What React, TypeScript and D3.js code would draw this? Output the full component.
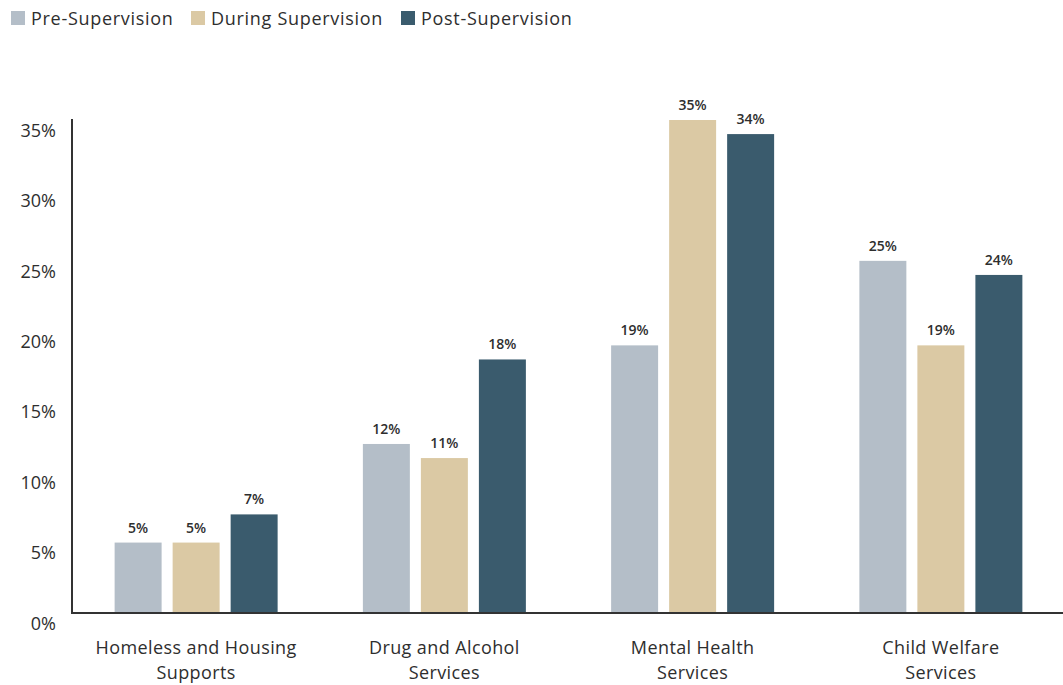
import { useEffect, useRef } from "react";
import * as d3 from "d3";

const categories = [
  "Homeless and Housing Supports",
  "Drug and Alcohol Services",
  "Mental Health Services",
  "Child Welfare Services",
];
const categoryLines = [
  ["Homeless and Housing", "Supports"],
  ["Drug and Alcohol", "Services"],
  ["Mental Health", "Services"],
  ["Child Welfare", "Services"],
];
const seriesNames = ["Pre-Supervision", "During Supervision", "Post-Supervision"];
const seriesColors = ["#b4bec8", "#dbc9a4", "#3a5b6d"];
const preValues = [5, 12, 19, 25];
const duringValues = [5, 11, 35, 19];
const postValues = [7, 18, 34, 24];
const yTicks = [0, 5, 10, 15, 20, 25, 30, 35];

const WIDTH = 1063;
const HEIGHT = 685;
const FONT = "'Open Sans', sans-serif";
const TEXT = "#2e2e2e";

export default function App() {
  const svgRef = useRef<SVGSVGElement | null>(null);

  useEffect(() => {
    const svg = d3.select(svgRef.current);
    svg.selectAll("*").remove();

    const margin = { top: 120, right: -2, bottom: 72, left: 72 };
    const allSeries = [preValues, duringValues, postValues];

    const x = d3
      .scaleBand<string>()
      .domain(categories)
      .range([margin.left, WIDTH - margin.right])
      .padding(0);

    const step = x.step();
    const groupW = 163;
    const xInner = d3
      .scaleBand<string>()
      .domain(seriesNames)
      .range([(step - groupW) / 2, (step + groupW) / 2])
      .paddingInner(0.19);

    const y = d3
      .scaleLinear()
      .domain([0, 35])
      .range([HEIGHT - margin.bottom, margin.top]);

    // legend
    const legend = svg.append("g");
    const legendX = [11, 191, 401];
    seriesNames.forEach((name, i) => {
      legend
        .append("rect")
        .attr("x", legendX[i])
        .attr("y", 11)
        .attr("width", 14)
        .attr("height", 14)
        .attr("fill", seriesColors[i]);
      legend
        .append("text")
        .attr("x", legendX[i] + 20)
        .attr("y", 18)
        .attr("dominant-baseline", "central")
        .attr("font-family", FONT)
        .attr("font-size", 18)
        .attr("letter-spacing", 0.7)
        .attr("fill", TEXT)
        .text(name);
    });

    // bars
    allSeries.forEach((values, si) => {
      const g = svg.append("g");
      g.selectAll("rect")
        .data(values)
        .join("rect")
        .attr("x", (_, i) => (x(categories[i]) ?? 0) + (xInner(seriesNames[si]) ?? 0))
        .attr("y", (d) => y(d))
        .attr("width", xInner.bandwidth())
        .attr("height", (d) => y(0) - y(d))
        .attr("fill", seriesColors[si]);

      g.selectAll("text")
        .data(values)
        .join("text")
        .attr(
          "x",
          (_, i) =>
            (x(categories[i]) ?? 0) + (xInner(seriesNames[si]) ?? 0) + xInner.bandwidth() / 2
        )
        .attr("y", (d) => y(d) - 10)
        .attr("text-anchor", "middle")
        .attr("font-family", FONT)
        .attr("font-size", 14)
        .attr("font-weight", 600)
        .attr("fill", TEXT)
        .text((d) => `${d}%`);
    });

    // y axis
    const yAxis = svg
      .append("g")
      .attr("transform", `translate(${margin.left},0)`)
      .call(
        d3
          .axisLeft(y)
          .tickValues(yTicks)
          .tickSize(0)
          .tickPadding(16)
          .tickFormat((d) => `${d}%`)
      );
    yAxis.select(".domain").remove();
    yAxis
      .selectAll("text")
      .attr("font-family", FONT)
      .attr("font-size", 18)
      .attr("fill", TEXT)
      .attr("dy", "0.9em");

    svg
      .append("line")
      .attr("x1", margin.left)
      .attr("x2", margin.left)
      .attr("y1", y(35) - 1)
      .attr("y2", y(0) + 1)
      .attr("stroke", "#333")
      .attr("stroke-width", 2);

    // x axis
    svg
      .append("line")
      .attr("x1", margin.left)
      .attr("x2", WIDTH)
      .attr("y1", y(0))
      .attr("y2", y(0))
      .attr("stroke", "#333")
      .attr("stroke-width", 2);

    const xLabels = svg.append("g");
    categories.forEach((c, i) => {
      const t = xLabels
        .append("text")
        .attr("text-anchor", "middle")
        .attr("font-family", FONT)
        .attr("font-size", 18)
        .attr("letter-spacing", 0.4)
        .attr("fill", TEXT);
      categoryLines[i].forEach((line, li) => {
        t.append("tspan")
          .attr("x", (x(c) ?? 0) + step / 2)
          .attr("y", 654 + li * 25)
          .text(line);
      });
    });
  }, []);

  return (
    <svg
      ref={svgRef}
      width={WIDTH}
      height={HEIGHT}
      style={{ position: "absolute", left: 0, top: 0, background: "#fff" }}
    />
  );
}
